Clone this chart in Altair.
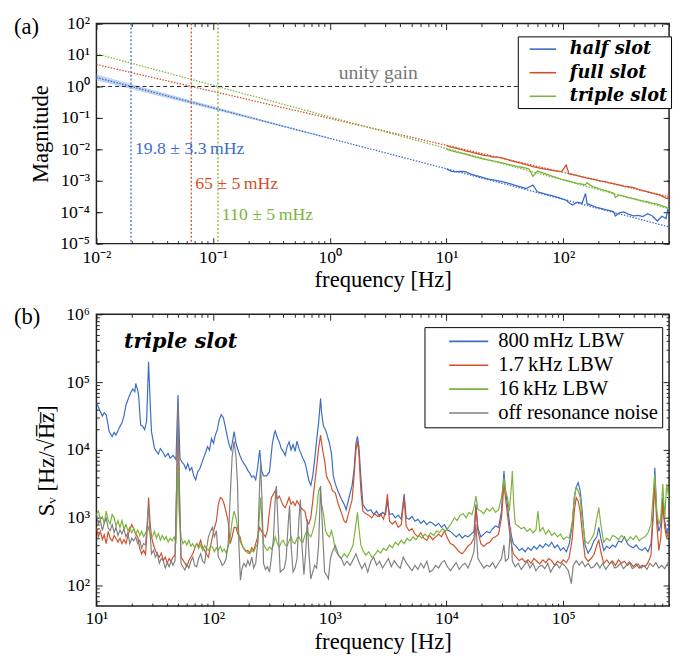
import altair as alt
import pandas as pd

BLUE, RED, GREEN, GRAY = "#3b6cc6", "#d1502a", "#7db43b", "#808080"
FRAME = "#222222"
SERIF = "'Liberation Serif', 'Times New Roman', Tinos, serif"
BOLDIT = "'DejaVu Serif', serif"

W = 583
H_TOP = 224
H_BOT = 297

# ---------------- panel (a): open-loop magnitude ----------------
top_freq = [10, 11, 12, 13, 14.5, 16, 17.5, 19, 21, 23, 25, 27.5, 30, 33, 36, 40, 44, 48, 51, 55,
            60, 66, 72, 80, 88, 97, 106, 112, 120, 132, 145, 155, 160, 175, 190, 210, 230, 250, 270, 280,
            300, 330, 360, 400, 440, 480, 530, 580, 640, 700, 760, 790, 807]
# log10 of the measured magnitude
half_slot_log10 = [-2.62, -2.70, -2.72, -2.70, -2.71, -2.78, -2.83, -2.86, -2.91, -2.95, -2.97, -3.00, -3.03, -3.07, -3.11,
                   -3.16, -3.20, -3.25, -3.20, -3.14, -3.35, -3.39, -3.43, -3.47, -3.52, -3.57, -3.62, -3.70, -3.77, -3.68,
                   -3.72, -3.40, -3.73, -3.78, -3.84, -3.88, -3.92, -3.95, -3.98, -4.12, -4.03, -3.99, -4.06, -4.12, -4.10,
                   -4.14, -4.05, -4.12, -4.28, -4.13, -4.20, -3.88, -3.86]
full_slot_log10 = [-1.88, -1.93, -1.96, -1.99, -2.05, -2.08, -2.12, -2.15, -2.19, -2.21, -2.25, -2.25, -2.28, -2.32, -2.37,
                   -2.41, -2.45, -2.49, -2.51, -2.55, -2.58, -2.61, -2.64, -2.67, -2.69, -2.71, -2.50, -2.78, -2.80, -2.84,
                   -2.88, -2.90, -2.92, -2.94, -2.97, -3.01, -3.03, -3.07, -3.09, -3.11, -3.13, -3.17, -3.19, -3.22, -3.27,
                   -3.31, -3.35, -3.39, -3.43, -3.49, -3.55, -3.57, -3.24]
triple_slot_log10 = [-1.99, -2.04, -2.08, -2.11, -2.15, -2.20, -2.24, -2.27, -2.31, -2.34, -2.37, -2.40, -2.43, -2.47, -2.50,
                     -2.54, -2.57, -2.60, -2.63, -2.86, -2.69, -2.74, -2.79, -2.85, -2.90, -2.96, -2.99, -3.01, -3.04, -3.08,
                     -3.11, -3.13, -3.06, -3.17, -3.22, -3.27, -3.31, -3.35, -3.40, -3.53, -3.45, -3.49, -3.53, -3.57, -3.61,
                     -3.64, -3.67, -3.71, -3.74, -3.79, -3.84, -3.87, -3.89]
top_series = ["half slot", "full slot", "triple slot"]
top_colors = [BLUE, RED, GREEN]

# integrator fits (straight lines in log-log)
fit_freq = [0.01, 807]
fit_half = [1.94, 3.4e-5]
fit_full = [5.0, 3.1e-4]
fit_triple = [11.0, 1.29e-4]

# uncertainty band of the half-slot fit
band_freq = [0.01, 0.03, 0.1, 0.3, 1.0]
band_lo = [1.57, 0.569, 0.185, 0.0668, 0.0215]
band_hi = [2.39, 0.785, 0.233, 0.0767, 0.0231]

ugf_values = [0.0198, 0.065, 0.11]
ugf_labels = ["19.8 ± 3.3\u2009mHz", "65 ± 5\u2009mHz", "110 ± 5\u2009mHz"]
ugf_label_y = [1e-2, 8e-4, 8e-5]

top_x_major = [0.01, 0.1, 1.0, 10.0, 100.0]
top_x_labels = ["10⁻²", "10⁻¹", "10⁰", "10¹", "10²"]
top_y_major = [1e-5, 1e-4, 1e-3, 1e-2, 1e-1, 1.0, 10.0, 100.0]
top_y_labels = ["10⁻⁵", "10⁻⁴", "10⁻³", "10⁻²", "10⁻¹", "10⁰", "10¹", "10²"]

# ---------------- panel (b): frequency noise spectra (log10 f, log10 S) ----------------
lbw_800mhz = [(1.000,4.70),(1.025,4.60),(1.051,4.50),(1.067,4.55),(1.084,4.52),(1.110,4.27),(1.135,4.20),(1.152,4.26),(1.168,4.22),(1.194,4.32),(1.219,4.40),(1.236,4.50),(1.253,4.66),(1.278,4.78),(1.295,4.85),(1.312,4.90),(1.329,4.86),(1.337,4.98),(1.354,4.88),(1.362,4.80),(1.379,4.37),(1.396,4.35),(1.413,4.30),(1.430,4.42),(1.447,5.30),(1.463,4.60),(1.472,4.27),(1.497,4.03),(1.514,3.98),(1.531,3.94),(1.548,4.02),(1.573,3.96),(1.590,3.90),(1.615,3.95),(1.632,3.88),(1.657,3.92),(1.682,3.86),(1.699,4.81),(1.716,3.88),(1.733,3.82),(1.750,3.79),(1.767,3.72),(1.783,3.80),(1.800,3.70),(1.817,3.74),(1.834,3.62),(1.851,3.56),(1.868,3.68),(1.885,3.72),(1.901,3.80),(1.918,3.88),(1.935,3.96),(1.952,4.05),(1.969,4.00),(1.986,4.17),(2.003,4.10),(2.019,4.22),(2.036,4.30),(2.053,4.45),(2.070,4.52),(2.087,4.48),(2.104,4.35),(2.121,4.20),(2.137,4.08),(2.154,4.00),(2.171,4.18),(2.180,4.27),(2.196,4.10),(2.213,4.00),(2.230,3.92),(2.247,3.85),(2.264,3.80),(2.281,3.76),(2.297,3.70),(2.314,3.66),(2.331,3.60),(2.348,3.62),(2.365,3.56),(2.382,3.75),(2.399,4.00),(2.415,3.70),(2.432,3.62),(2.458,3.62),(2.483,3.68),(2.508,4.10),(2.525,4.25),(2.533,4.28),(2.550,4.18),(2.567,4.12),(2.584,4.02),(2.601,3.98),(2.618,3.92),(2.634,4.05),(2.651,4.12),(2.668,4.00),(2.685,4.08),(2.702,3.98),(2.719,4.13),(2.736,4.02),(2.752,3.95),(2.769,3.88),(2.786,3.82),(2.803,3.70),(2.820,3.55),(2.837,3.48),(2.854,3.62),(2.870,3.85),(2.887,4.15),(2.904,4.40),(2.921,4.76),(2.929,4.55),(2.946,4.35),(2.963,4.30),(2.980,4.20),(2.997,4.10),(3.014,3.95),(3.030,3.62),(3.047,3.50),(3.073,3.38),(3.098,3.28),(3.123,3.20),(3.140,3.12),(3.165,3.30),(3.191,3.48),(3.207,3.70),(3.224,4.10),(3.237,4.20),(3.249,4.05),(3.266,3.60),(3.283,3.20),(3.300,3.15),(3.325,3.10),(3.351,3.12),(3.376,3.05),(3.401,3.10),(3.426,3.02),(3.452,3.08),(3.477,3.05),(3.494,3.25),(3.511,3.05),(3.536,3.06),(3.561,3.00),(3.586,3.04),(3.612,2.98),(3.637,3.35),(3.654,3.00),(3.679,2.98),(3.704,3.02),(3.730,2.95),(3.755,2.98),(3.780,2.92),(3.805,2.96),(3.831,2.90),(3.856,2.94),(3.881,2.92),(3.907,2.88),(3.932,2.92),(3.957,2.86),(3.982,2.90),(4.008,2.82),(4.033,2.80),(4.058,2.76),(4.083,2.72),(4.109,2.76),(4.134,2.70),(4.159,2.74),(4.185,2.72),(4.210,2.76),(4.235,2.80),(4.252,3.20),(4.269,2.85),(4.294,2.72),(4.319,2.76),(4.345,2.80),(4.370,2.78),(4.395,2.84),(4.420,2.88),(4.446,2.86),(4.471,3.10),(4.492,3.69),(4.505,3.40),(4.522,3.20),(4.547,2.80),(4.572,2.62),(4.597,2.58),(4.623,2.52),(4.648,2.55),(4.673,2.50),(4.699,2.56),(4.724,2.52),(4.749,2.58),(4.774,2.54),(4.800,2.60),(4.825,2.56),(4.850,2.62),(4.876,2.58),(4.901,2.64),(4.926,2.56),(4.951,2.60),(4.977,2.52),(5.002,2.56),(5.027,2.50),(5.052,2.62),(5.078,2.90),(5.095,3.30),(5.111,3.45),(5.128,3.52),(5.145,3.40),(5.162,3.10),(5.187,2.60),(5.213,2.48),(5.238,2.55),(5.263,2.66),(5.288,2.72),(5.305,2.86),(5.322,2.70),(5.347,2.52),(5.373,2.58),(5.398,2.55),(5.423,2.60),(5.448,2.57),(5.474,2.66),(5.499,2.64),(5.524,2.72),(5.550,2.62),(5.575,2.58),(5.600,2.56),(5.625,2.60),(5.651,2.54),(5.676,2.52),(5.701,2.56),(5.726,2.50),(5.752,2.62),(5.769,3.00),(5.785,3.74),(5.802,3.00),(5.819,2.80),(5.836,2.90),(5.853,3.30),(5.870,2.95),(5.886,2.78),(5.905,2.85)]

lbw_1p7khz = [(1.000,2.86),(1.017,2.72),(1.034,2.80),(1.051,2.68),(1.067,2.75),(1.084,2.62),(1.101,2.80),(1.118,2.70),(1.135,2.66),(1.152,2.74),(1.168,2.70),(1.185,2.64),(1.202,2.70),(1.219,2.62),(1.236,2.68),(1.253,2.62),(1.270,2.74),(1.286,2.82),(1.303,2.90),(1.320,2.84),(1.337,2.76),(1.354,2.72),(1.371,2.55),(1.388,2.47),(1.404,2.52),(1.421,2.46),(1.438,2.90),(1.447,3.30),(1.459,2.95),(1.472,2.72),(1.489,2.60),(1.505,2.52),(1.522,2.46),(1.539,2.42),(1.556,2.48),(1.573,2.37),(1.590,2.42),(1.607,2.33),(1.623,2.40),(1.640,2.36),(1.657,2.42),(1.674,2.45),(1.687,3.40),(1.699,4.60),(1.712,3.30),(1.725,2.42),(1.741,2.38),(1.758,2.33),(1.775,2.28),(1.792,2.37),(1.809,2.42),(1.826,2.47),(1.842,2.55),(1.859,2.62),(1.876,2.58),(1.893,2.67),(1.910,2.56),(1.927,2.52),(1.944,2.46),(1.960,2.42),(1.977,2.58),(1.994,2.72),(2.011,2.85),(2.028,2.95),(2.045,3.20),(2.062,3.30),(2.078,3.28),(2.095,3.20),(2.112,3.08),(2.129,2.95),(2.146,2.62),(2.163,2.72),(2.180,2.86),(2.196,2.86),(2.213,2.76),(2.230,2.72),(2.247,2.60),(2.264,2.55),(2.281,2.50),(2.297,2.52),(2.314,2.48),(2.331,2.56),(2.348,2.52),(2.365,2.62),(2.382,2.72),(2.399,2.86),(2.415,2.80),(2.432,2.76),(2.449,2.72),(2.466,2.82),(2.483,3.10),(2.500,3.30),(2.517,3.35),(2.533,3.40),(2.550,3.28),(2.567,3.32),(2.584,3.25),(2.601,3.18),(2.618,3.15),(2.634,3.22),(2.651,3.30),(2.668,3.20),(2.685,3.24),(2.702,3.18),(2.719,3.25),(2.736,3.20),(2.752,3.15),(2.769,3.12),(2.786,3.10),(2.803,2.95),(2.820,2.91),(2.837,3.00),(2.854,3.25),(2.870,3.50),(2.887,3.75),(2.904,4.03),(2.921,4.22),(2.938,4.00),(2.955,3.85),(2.971,3.62),(2.988,3.55),(3.005,3.50),(3.022,3.40),(3.047,3.37),(3.073,3.20),(3.098,3.08),(3.123,2.95),(3.140,2.93),(3.165,3.10),(3.191,3.27),(3.207,3.60),(3.224,4.00),(3.237,4.13),(3.249,3.95),(3.266,3.40),(3.283,3.10),(3.308,3.06),(3.334,3.04),(3.359,3.00),(3.384,3.06),(3.410,3.02),(3.435,3.06),(3.460,2.98),(3.477,3.10),(3.494,3.35),(3.511,2.95),(3.536,2.91),(3.561,2.95),(3.586,2.86),(3.612,2.90),(3.637,3.30),(3.654,2.88),(3.679,2.81),(3.704,2.84),(3.730,2.76),(3.755,2.72),(3.780,2.78),(3.805,2.70),(3.831,2.67),(3.856,2.74),(3.881,2.68),(3.907,2.72),(3.932,2.76),(3.957,2.72),(3.982,2.81),(4.008,2.70),(4.033,2.62),(4.058,2.60),(4.083,2.55),(4.109,2.50),(4.134,2.47),(4.159,2.52),(4.185,2.59),(4.210,2.62),(4.235,2.70),(4.252,3.15),(4.269,2.80),(4.294,2.62),(4.319,2.58),(4.345,2.62),(4.370,2.64),(4.395,2.70),(4.420,2.72),(4.446,2.76),(4.471,3.00),(4.492,3.50),(4.505,3.30),(4.522,3.05),(4.547,2.70),(4.572,2.47),(4.597,2.42),(4.623,2.37),(4.648,2.40),(4.673,2.35),(4.699,2.38),(4.724,2.33),(4.749,2.40),(4.774,2.36),(4.800,2.32),(4.825,2.38),(4.850,2.34),(4.876,2.40),(4.901,2.37),(4.926,2.30),(4.951,2.36),(4.977,2.33),(5.002,2.38),(5.027,2.34),(5.052,2.42),(5.078,2.70),(5.095,3.10),(5.111,3.30),(5.128,3.25),(5.145,3.10),(5.162,2.80),(5.187,2.42),(5.213,2.36),(5.238,2.40),(5.263,2.46),(5.288,2.60),(5.305,2.67),(5.322,2.50),(5.347,2.33),(5.373,2.38),(5.398,2.32),(5.423,2.36),(5.448,2.30),(5.474,2.38),(5.499,2.33),(5.524,2.36),(5.550,2.30),(5.575,2.34),(5.600,2.28),(5.625,2.32),(5.651,2.26),(5.676,2.30),(5.701,2.28),(5.726,2.34),(5.752,2.45),(5.769,3.00),(5.785,3.50),(5.802,2.90),(5.819,2.52),(5.836,2.70),(5.853,3.20),(5.870,2.85),(5.886,2.70),(5.905,2.80)]

lbw_16khz = [(1.000,3.06),(1.017,3.10),(1.034,2.98),(1.051,3.02),(1.067,2.92),(1.084,3.10),(1.101,2.96),(1.118,2.91),(1.135,3.05),(1.152,3.00),(1.168,2.88),(1.185,2.96),(1.202,2.86),(1.219,2.96),(1.236,2.84),(1.253,2.90),(1.270,2.81),(1.286,2.86),(1.303,2.78),(1.320,2.84),(1.337,2.76),(1.354,2.82),(1.371,2.74),(1.388,2.80),(1.404,2.72),(1.421,2.78),(1.438,2.82),(1.447,2.86),(1.463,2.74),(1.480,2.72),(1.497,2.80),(1.514,2.70),(1.531,2.77),(1.548,2.67),(1.564,2.74),(1.581,2.68),(1.598,2.72),(1.615,2.64),(1.632,2.70),(1.649,2.66),(1.666,2.72),(1.682,2.62),(1.691,3.20),(1.699,3.80),(1.708,3.10),(1.725,2.72),(1.741,2.62),(1.758,2.66),(1.775,2.60),(1.792,2.67),(1.809,2.58),(1.826,2.62),(1.842,2.56),(1.859,2.62),(1.876,2.55),(1.893,2.60),(1.910,2.52),(1.927,2.59),(1.944,2.54),(1.960,2.52),(1.977,2.58),(1.994,2.57),(2.011,2.50),(2.028,2.56),(2.045,2.52),(2.062,2.58),(2.078,2.50),(2.095,2.54),(2.112,2.48),(2.129,2.57),(2.146,2.70),(2.163,2.95),(2.180,3.10),(2.196,3.00),(2.213,2.81),(2.230,2.66),(2.247,2.60),(2.264,2.54),(2.281,2.52),(2.297,2.48),(2.314,2.47),(2.331,2.52),(2.348,2.50),(2.365,2.57),(2.382,2.62),(2.399,3.10),(2.407,3.30),(2.420,2.90),(2.432,2.62),(2.449,2.55),(2.466,2.52),(2.483,2.57),(2.500,2.54),(2.517,2.60),(2.533,2.72),(2.550,2.62),(2.567,2.57),(2.584,2.64),(2.601,2.67),(2.618,2.60),(2.634,2.59),(2.651,2.66),(2.668,2.72),(2.685,2.64),(2.702,2.62),(2.719,2.70),(2.736,2.72),(2.752,2.66),(2.769,2.64),(2.786,2.74),(2.803,2.81),(2.820,2.76),(2.837,2.72),(2.854,2.80),(2.870,2.91),(2.887,3.10),(2.904,3.40),(2.917,3.45),(2.929,3.20),(2.946,3.06),(2.963,2.81),(2.980,2.75),(2.997,2.72),(3.014,2.81),(3.030,2.70),(3.047,2.52),(3.073,2.45),(3.098,2.40),(3.123,2.47),(3.148,2.42),(3.174,2.50),(3.199,2.60),(3.216,2.81),(3.237,3.08),(3.249,2.85),(3.266,2.60),(3.283,2.52),(3.308,2.45),(3.334,2.50),(3.359,2.42),(3.384,2.45),(3.410,2.52),(3.435,2.48),(3.460,2.55),(3.485,2.52),(3.511,2.60),(3.536,2.56),(3.561,2.64),(3.586,2.60),(3.612,2.67),(3.637,2.62),(3.662,2.70),(3.688,2.66),(3.713,2.72),(3.738,2.68),(3.763,2.74),(3.789,2.70),(3.814,2.76),(3.839,2.72),(3.864,2.78),(3.890,2.74),(3.915,2.81),(3.940,2.78),(3.966,2.84),(3.991,2.80),(4.016,2.86),(4.041,2.92),(4.067,3.00),(4.092,2.96),(4.117,3.04),(4.142,3.06),(4.168,3.00),(4.193,3.08),(4.218,3.05),(4.235,3.15),(4.252,3.32),(4.269,3.12),(4.294,3.10),(4.319,3.06),(4.345,3.14),(4.370,3.10),(4.395,3.15),(4.420,3.08),(4.446,3.12),(4.471,3.30),(4.492,3.59),(4.505,3.40),(4.522,3.30),(4.538,3.10),(4.555,3.45),(4.564,3.69),(4.576,3.20),(4.589,2.91),(4.614,2.88),(4.640,2.84),(4.665,2.86),(4.690,2.80),(4.715,2.84),(4.741,2.78),(4.766,2.82),(4.783,3.10),(4.800,2.80),(4.825,2.86),(4.850,2.76),(4.876,2.82),(4.901,2.74),(4.926,2.78),(4.951,2.72),(4.977,2.76),(5.002,2.68),(5.027,2.72),(5.052,2.70),(5.078,2.95),(5.095,3.30),(5.111,3.45),(5.128,3.40),(5.145,3.30),(5.162,3.00),(5.187,2.66),(5.213,2.62),(5.238,2.68),(5.263,2.76),(5.288,3.00),(5.305,3.15),(5.322,2.90),(5.347,2.64),(5.373,2.70),(5.398,2.66),(5.423,2.74),(5.448,2.72),(5.474,2.68),(5.499,2.74),(5.524,2.70),(5.550,2.66),(5.575,2.72),(5.600,2.68),(5.625,2.74),(5.651,2.66),(5.676,2.70),(5.701,2.72),(5.726,2.78),(5.752,2.90),(5.769,3.30),(5.785,3.64),(5.802,3.10),(5.819,2.90),(5.836,3.00),(5.853,3.50),(5.870,3.00),(5.886,3.50),(5.903,3.30)]

off_resonance = [(1.000,3.06),(1.017,2.91),(1.034,2.96),(1.051,2.81),(1.067,2.92),(1.084,3.00),(1.101,2.85),(1.118,2.81),(1.135,2.90),(1.152,2.78),(1.168,2.86),(1.185,2.74),(1.202,2.82),(1.219,2.76),(1.236,2.84),(1.253,2.72),(1.270,2.78),(1.286,2.62),(1.303,2.70),(1.320,2.66),(1.337,2.72),(1.354,2.62),(1.371,2.67),(1.388,2.55),(1.404,2.62),(1.421,2.60),(1.434,2.90),(1.447,3.20),(1.459,2.80),(1.472,2.47),(1.489,2.52),(1.505,2.42),(1.522,2.48),(1.539,2.33),(1.556,2.40),(1.573,2.37),(1.590,2.26),(1.607,2.34),(1.623,2.28),(1.640,2.36),(1.657,2.30),(1.674,2.37),(1.687,3.50),(1.699,4.66),(1.712,3.40),(1.725,2.33),(1.741,2.28),(1.758,2.23),(1.775,2.32),(1.792,2.26),(1.809,2.36),(1.826,2.42),(1.842,2.30),(1.859,2.28),(1.876,2.40),(1.893,2.47),(1.910,2.36),(1.927,2.33),(1.944,2.55),(1.960,2.72),(1.977,2.80),(1.994,2.86),(2.011,2.72),(2.028,2.81),(2.045,2.42),(2.062,2.37),(2.078,2.30),(2.095,2.33),(2.112,2.40),(2.129,2.62),(2.146,3.30),(2.163,3.90),(2.180,4.13),(2.196,3.90),(2.209,3.50),(2.221,2.60),(2.234,2.08),(2.247,2.25),(2.264,2.33),(2.281,2.28),(2.297,2.37),(2.314,2.30),(2.331,2.42),(2.348,2.26),(2.365,2.33),(2.382,2.62),(2.399,3.50),(2.407,3.80),(2.420,3.20),(2.432,2.33),(2.449,2.24),(2.466,2.28),(2.483,2.20),(2.500,2.42),(2.517,2.70),(2.533,3.30),(2.542,3.47),(2.559,2.80),(2.575,2.20),(2.592,2.23),(2.609,2.25),(2.626,2.40),(2.643,2.90),(2.655,3.18),(2.668,2.60),(2.685,2.20),(2.702,2.26),(2.719,2.40),(2.736,3.00),(2.748,3.27),(2.761,2.60),(2.778,2.16),(2.794,2.50),(2.807,2.98),(2.820,2.50),(2.837,2.10),(2.854,2.20),(2.870,2.30),(2.887,2.26),(2.904,2.60),(2.921,3.47),(2.938,2.80),(2.955,2.20),(2.971,2.16),(2.988,2.10),(3.005,2.40),(3.022,2.50),(3.047,2.59),(3.073,2.46),(3.098,2.40),(3.123,2.30),(3.148,2.36),(3.174,2.30),(3.199,2.38),(3.224,2.47),(3.249,2.35),(3.275,2.25),(3.300,2.33),(3.325,2.20),(3.351,2.36),(3.376,2.42),(3.401,2.30),(3.426,2.36),(3.452,2.26),(3.477,2.33),(3.502,2.40),(3.527,2.28),(3.553,2.37),(3.578,2.30),(3.603,2.26),(3.629,2.42),(3.654,2.34),(3.679,2.28),(3.704,2.22),(3.730,2.30),(3.755,2.24),(3.780,2.33),(3.805,2.26),(3.831,2.36),(3.856,2.20),(3.881,2.23),(3.907,2.30),(3.932,2.26),(3.957,2.34),(3.982,2.37),(4.008,2.28),(4.033,2.22),(4.058,2.28),(4.083,2.34),(4.109,2.24),(4.134,2.30),(4.159,2.33),(4.185,2.26),(4.210,2.37),(4.235,2.50),(4.252,2.91),(4.269,2.40),(4.294,2.33),(4.319,2.26),(4.345,2.30),(4.370,2.28),(4.395,2.34),(4.420,2.26),(4.446,2.33),(4.471,2.40),(4.492,2.60),(4.505,2.36),(4.530,2.40),(4.549,2.86),(4.564,2.36),(4.589,2.28),(4.614,2.33),(4.640,2.24),(4.665,2.30),(4.690,2.36),(4.715,2.26),(4.741,2.33),(4.766,2.22),(4.791,2.28),(4.817,2.30),(4.842,2.25),(4.867,2.33),(4.892,2.20),(4.918,2.28),(4.943,2.32),(4.968,2.26),(4.993,2.33),(5.019,2.28),(5.044,2.22),(5.069,2.03),(5.086,2.30),(5.111,2.37),(5.137,2.30),(5.162,2.36),(5.187,2.28),(5.213,2.33),(5.238,2.26),(5.263,2.28),(5.288,2.34),(5.314,2.26),(5.339,2.33),(5.364,2.24),(5.389,2.30),(5.415,2.36),(5.440,2.26),(5.465,2.28),(5.491,2.33),(5.516,2.25),(5.541,2.30),(5.566,2.35),(5.592,2.25),(5.617,2.28),(5.642,2.32),(5.667,2.26),(5.693,2.30),(5.718,2.24),(5.743,2.33),(5.769,2.28),(5.794,2.34),(5.819,2.26),(5.844,2.30),(5.870,2.25),(5.895,2.33),(5.905,2.28)]

bot_series = ["800\u2009mHz LBW", "1.7\u2009kHz LBW", "16\u2009kHz LBW", "off resonance noise"]
bot_colors = [BLUE, RED, GREEN, GRAY]

bot_x_major = [1e1, 1e2, 1e3, 1e4, 1e5]
bot_x_labels = ["10¹", "10²", "10³", "10⁴", "10⁵"]
bot_y_major = [1e2, 1e3, 1e4, 1e5, 1e6]
bot_y_labels = ["10²", "10³", "10⁴", "10⁵", "10⁶"]

# minor tick positions
top_x_minor = [m * 10.0 ** k for k in range(-2, 3) for m in range(2, 10) if m * 10.0 ** k <= 807]
bot_x_minor = [m * 10.0 ** k for k in range(1, 6) for m in range(2, 10) if m * 10.0 ** k <= 8.07e5]
bot_y_minor = [m * 10.0 ** k for k in range(1, 6) for m in range(2, 10) if m * 10.0 ** k > 50]


def label_expr(values, labels):
    parts = [f"datum.value == {v} ? '{l}'" for v, l in zip(values, labels)]
    return " : ".join(parts) + " : ''"


def tick_layers(xs, ys, xdom, ydom, xmaj, xmin, ymaj, ymin, w, h):
    corners = pd.DataFrame({"x": xdom, "y": ydom})
    out = []
    for xv, yv, size in [(xmaj, ymaj, 6), (xmin, ymin, 3)]:
        for xo, yo in [("top", "right"), ("bottom", "left")]:
            out.append(
                alt.Chart(corners).mark_point(opacity=0).encode(
                    x=alt.X("x:Q", scale=xs, axis=alt.Axis(
                        orient=xo, offset=-h, values=xv, tickSize=size, labels=False, domain=False,
                        grid=False, title=None, ticks=True, tickColor=FRAME, tickWidth=1)),
                    y=alt.Y("y:Q", scale=ys, axis=alt.Axis(
                        orient=yo, offset=-w, values=yv, tickSize=size, labels=False, domain=False,
                        grid=False, title=None, ticks=True, tickColor=FRAME, tickWidth=1)),
                )
            )
    return out


# ================= build panel (a) =================
xs_top = alt.Scale(type="log", domain=[0.01, 807], nice=False)
ys_top = alt.Scale(type="log", domain=[1e-5, 100], nice=False)

rows = []
for name, vals in zip(top_series, [half_slot_log10, full_slot_log10, triple_slot_log10]):
    for f, v in zip(top_freq, vals):
        rows.append({"f": f, "m": 10 ** v, "series": name})
top_df = pd.DataFrame(rows)

fit_rows = []
for col, vals in zip(top_colors, [fit_half, fit_full, fit_triple]):
    for f, v in zip(fit_freq, vals):
        fit_rows.append({"f": f, "m": v, "c": col})
fit_df = pd.DataFrame(fit_rows)

band_df = pd.DataFrame({"f": band_freq, "lo": band_lo, "hi": band_hi})
ugf_df = pd.DataFrame({"f": ugf_values, "c": top_colors, "t": ugf_labels, "y": ugf_label_y})

band = alt.Chart(band_df).mark_area(color="#a9c3ee", opacity=0.75, clip=True).encode(
    x=alt.X("f:Q", scale=xs_top, axis=None),
    y=alt.Y("lo:Q", scale=ys_top, axis=None),
    y2="hi:Q",
)
fits = alt.Chart(fit_df).mark_line(strokeWidth=1.3, strokeDash=[1.5, 1.5], clip=True).encode(
    x=alt.X("f:Q", scale=xs_top, axis=None),
    y=alt.Y("m:Q", scale=ys_top, axis=None),
    color=alt.Color("c:N", scale=None),
    detail="c:N",
)
vrules = alt.Chart(ugf_df).mark_rule(strokeWidth=1.3, strokeDash=[2, 2]).encode(
    x=alt.X("f:Q", scale=xs_top, axis=None),
    color=alt.Color("c:N", scale=None),
)
hline = alt.Chart(pd.DataFrame({"y": [1.0]})).mark_rule(color=FRAME, strokeWidth=1, strokeDash=[4, 3]).encode(
    y=alt.Y("y:Q", scale=ys_top, axis=None),
)
unity_txt = alt.Chart(pd.DataFrame({"f": [2.6], "y": [2.6], "t": ["unity gain"]})).mark_text(
    font=SERIF, fontSize=20, color="#777777", baseline="middle", align="center"
).encode(
    x=alt.X("f:Q", scale=xs_top, axis=None),
    y=alt.Y("y:Q", scale=ys_top, axis=None),
    text="t:N",
)
ugf_txt = alt.Chart(ugf_df).mark_text(font=SERIF, fontSize=18, align="left", baseline="middle", dx=4).encode(
    x=alt.X("f:Q", scale=xs_top, axis=None),
    y=alt.Y("y:Q", scale=ys_top, axis=None),
    text="t:N",
    color=alt.Color("c:N", scale=None),
)
lines_top = alt.Chart(top_df).mark_line(strokeWidth=1.3, clip=True).encode(
    x=alt.X("f:Q", scale=xs_top, axis=alt.Axis(
        values=top_x_major, labelExpr=label_expr(top_x_major, top_x_labels), ticks=False, domain=False,
        grid=False, title="frequency [Hz]", labelFlush=False, labelOverlap=False, labelPadding=5, titlePadding=3)),
    y=alt.Y("m:Q", scale=ys_top, axis=alt.Axis(
        values=top_y_major, labelExpr=label_expr(top_y_major, top_y_labels), ticks=False, domain=False,
        grid=False, title="Magnitude", labelOverlap=False, labelPadding=7, titlePadding=7)),
    color=alt.Color("series:N", scale=alt.Scale(domain=top_series, range=top_colors), legend=alt.Legend(
        orient="none", legendX=429, legendY=13, title=None, symbolType="M-1.5,0H1.5", symbolSize=324,
        symbolStrokeWidth=1.6, labelFont=BOLDIT, labelFontSize=18, labelFontStyle="italic",
        labelFontWeight="bold", labelOffset=17.5, padding=3, rowPadding=5, strokeColor="black",
        fillColor="white", symbolOffset=12.5, cornerRadius=0, labelColor="black", labelLimit=300)),
)
label_a = alt.Chart(pd.DataFrame({"t": ["(a)"]})).mark_text(
    font=SERIF, fontSize=23, align="left", baseline="middle", color="black"
).encode(text="t:N", x=alt.value(-84), y=alt.value(4))

top = alt.layer(
    band, fits, vrules, hline, lines_top, ugf_txt, unity_txt, label_a,
    *tick_layers(xs_top, ys_top, [0.01, 807], [1e-5, 100], top_x_major, top_x_minor,
                 top_y_major, top_y_major, W, H_TOP)
).resolve_scale(color="independent").resolve_axis(x="independent", y="independent").properties(
    width=W, height=H_TOP)

# ================= build panel (b) =================
xs_bot = alt.Scale(type="log", domain=[10, 8.07e5], nice=False)
ys_bot = alt.Scale(type="log", domain=[50, 1e6], nice=False)

brows = []
for order, (name, pts) in enumerate(zip(bot_series, [lbw_800mhz, lbw_1p7khz, lbw_16khz, off_resonance])):
    for lf, ls in pts:
        brows.append({"f": 10 ** lf, "s": 10 ** ls, "series": name, "o": order})
bot_df = pd.DataFrame(brows)

lines_bot = alt.Chart(bot_df).mark_line(strokeWidth=1.2, clip=True).encode(
    x=alt.X("f:Q", scale=xs_bot, axis=alt.Axis(
        values=bot_x_major, labelExpr=label_expr(bot_x_major, bot_x_labels), ticks=False, domain=False,
        grid=False, title="frequency [Hz]", labelFlush=False, labelOverlap=False, labelPadding=4, titlePadding=3)),
    y=alt.Y("s:Q", scale=ys_bot, axis=alt.Axis(
        values=bot_y_major, labelExpr=label_expr(bot_y_major, bot_y_labels), ticks=False, domain=False,
        grid=False, title="S\u1d65 [Hz/\u221aH\u0305z\u0305]", labelOverlap=False, labelPadding=7, titlePadding=7)),
    color=alt.Color("series:N", scale=alt.Scale(domain=bot_series, range=bot_colors), legend=alt.Legend(
        orient="none", legendX=334, legendY=13, title=None, symbolType="M-2.1,0H2.1", symbolSize=361,
        symbolStrokeWidth=1.6, labelFont=SERIF, labelFontSize=21, labelOffset=19.5, padding=4,
        rowPadding=2.3, strokeColor="black", fillColor="white", symbolOffset=30.5, cornerRadius=0,
        labelColor="black", labelLimit=300)),
    order="o:Q",
)
slot_txt = alt.Chart(pd.DataFrame({"f": [17.2], "s": [3.9e5], "t": ["triple slot"]})).mark_text(
    font=BOLDIT, fontSize=21, fontStyle="italic", fontWeight="bold", align="left", baseline="middle",
    color="black"
).encode(
    x=alt.X("f:Q", scale=xs_bot, axis=None),
    y=alt.Y("s:Q", scale=ys_bot, axis=None),
    text="t:N",
)
label_b = alt.Chart(pd.DataFrame({"t": ["(b)"]})).mark_text(
    font=SERIF, fontSize=23, align="left", baseline="middle", color="black"
).encode(text="t:N", x=alt.value(-84), y=alt.value(3))

bottom = alt.layer(
    lines_bot, slot_txt, label_b,
    *tick_layers(xs_bot, ys_bot, [10, 8.07e5], [50, 1e6], bot_x_major, bot_x_minor,
                 bot_y_major, bot_y_minor, W, H_BOT)
).resolve_scale(color="independent").resolve_axis(x="independent", y="independent").properties(
    width=W, height=H_BOT)

chart = alt.vconcat(top, bottom, spacing=12).properties(
    padding={"left": 5, "top": 0, "right": 0, "bottom": 0}
).configure_view(stroke=FRAME, strokeWidth=1.5).configure_axis(
    labelFont=SERIF, labelFontSize=18, labelColor="black", titleFont=SERIF, titleFontSize=23,
    titleFontWeight="normal", titleColor="black"
)

chart.save("out.html", embed_options={"renderer": "svg", "actions": False})
